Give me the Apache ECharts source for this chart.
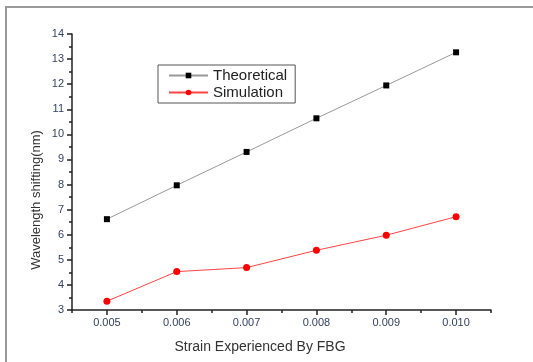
<!DOCTYPE html>
<html>
<head>
<meta charset="utf-8">
<style>
  html, body { margin: 0; padding: 0; background: #fff; }
  #chart { width: 533px; height: 362px; }
</style>
</head>
<body>
<div id="chart"></div>
<script src="https://cdn.jsdelivr.net/npm/echarts@6/dist/echarts.min.js"></script>
<script>
const strain = [0.005, 0.006, 0.007, 0.008, 0.009, 0.010];
const theoretical = [6.62, 7.97, 9.3, 10.64, 11.95, 13.27];
const simulation = [3.35, 4.53, 4.69, 5.38, 5.98, 6.72];
const majorTicks = [0.005, 0.006, 0.007, 0.008, 0.009, 0.010];
const minorTicks = [0.0045, 0.0055, 0.0065, 0.0075, 0.0085, 0.0095, 0.0105];

const font = 'Liberation Sans, Arial, sans-serif';
const labelColor = '#34425e';

const chart = echarts.init(document.getElementById('chart'));
chart.setOption({
  animation: false,
  backgroundColor: '#fff',
  grid: { left: 72, right: 42, top: 34, bottom: 52 },
  legend: {
    orient: 'vertical',
    left: 158,
    top: 65,
    padding: [3, 8, 3, 10],
    itemGap: 2,
    itemWidth: 39,
    itemHeight: 7,
    borderColor: '#555',
    borderWidth: 1,
    textStyle: { fontFamily: font, fontSize: 15, color: '#222' },
    data: ['Theoretical', 'Simulation']
  },
  xAxis: [{
    type: 'value',
    min: 0.0045,
    max: 0.0105,
    splitLine: { show: false },
    axisLine: { lineStyle: { color: '#222', width: 1.5 } },
    axisTick: { customValues: majorTicks, length: 5, lineStyle: { color: '#222', width: 1.5 } },
    axisLabel: {
      customValues: majorTicks,
      formatter: v => v.toFixed(3),
      fontFamily: font, fontSize: 11, color: labelColor, margin: 7
    }
  }, {
    type: 'value',
    min: 0.0045,
    max: 0.0105,
    position: 'bottom',
    splitLine: { show: false },
    axisLine: { show: false },
    axisTick: { customValues: minorTicks, length: 3, lineStyle: { color: '#222', width: 1.5 } },
    axisLabel: { show: false }
  }],
  yAxis: {
    type: 'value',
    min: 3,
    max: 14,
    interval: 1,
    splitLine: { show: false },
    axisLine: { show: true, lineStyle: { color: '#222', width: 1.5 } },
    axisTick: { show: true, length: 5, lineStyle: { color: '#222', width: 1.5 } },
    minorTick: { show: true, splitNumber: 2, length: 3, lineStyle: { color: '#222', width: 1.5 } },
    axisLabel: { fontFamily: font, fontSize: 11, color: labelColor, margin: 8 }
  },
  series: [{
    name: 'Theoretical',
    type: 'line',
    data: strain.map((x, i) => [x, theoretical[i]]),
    symbol: 'rect',
    symbolSize: 6,
    itemStyle: { color: '#000' },
    lineStyle: { color: '#999', width: 1 }
  }, {
    name: 'Simulation',
    type: 'line',
    data: strain.map((x, i) => [x, simulation[i]]),
    symbol: 'circle',
    symbolSize: 7,
    itemStyle: { color: '#f00' },
    lineStyle: { color: '#f44', width: 1 }
  }],
  graphic: [{
    type: 'rect',
    shape: { x: 6, y: 7, width: 600, height: 400 },
    style: { fill: 'none', stroke: '#999', lineWidth: 2 },
    silent: true
  }, {
    type: 'text',
    x: 36, y: 200,
    rotation: Math.PI / 2,
    style: {
      text: 'Wavelength shifting(nm)',
      fontFamily: font, fontSize: 13, fill: '#333',
      align: 'center', verticalAlign: 'middle'
    }
  }, {
    type: 'text',
    x: 260, y: 347,
    style: {
      text: 'Strain Experienced By FBG',
      fontFamily: font, fontSize: 14, fill: '#333',
      align: 'center', verticalAlign: 'middle'
    }
  }]
});
</script>
</body>
</html>
